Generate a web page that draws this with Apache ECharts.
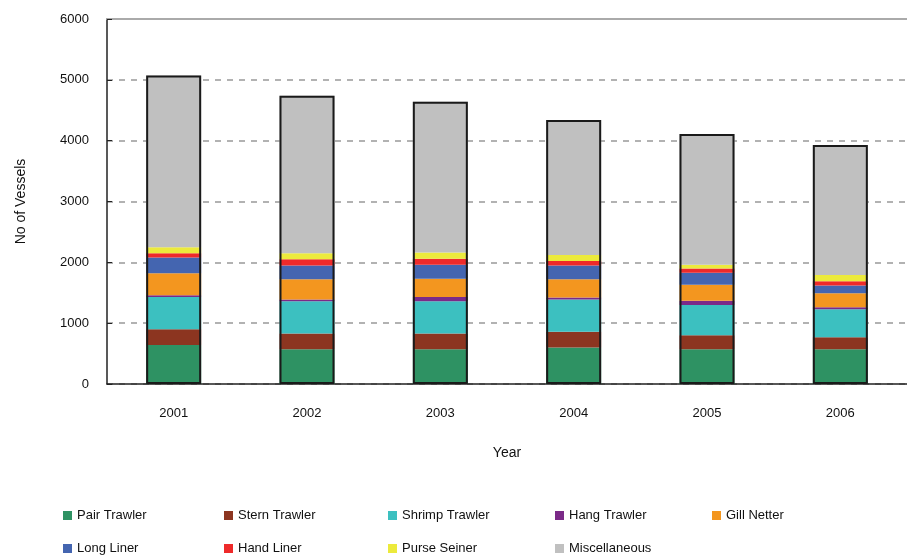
<!DOCTYPE html>
<html>
<head>
<meta charset="utf-8">
<script src="https://cdn.jsdelivr.net/npm/echarts@6/dist/echarts.min.js"></script>
<style>
  html, body { margin: 0; padding: 0; background: #fff; }
  #chart { width: 907px; height: 558px; }
</style>
</head>
<body>
<div id="chart"></div>
<script>
// 数据
const years = ['2001', '2002', '2003', '2004', '2005', '2006'];
const pairTrawler = [640, 570, 570, 600, 570, 570];
const sternTrawler = [260, 260, 260, 260, 230, 200];
const shrimpTrawler = [530, 530, 530, 530, 500, 460];
const hangTrawler = [30, 30, 70, 30, 70, 30];
const gillNetter = [360, 330, 300, 300, 260, 230];
const longLiner = [260, 230, 230, 230, 200, 130];
const handLiner = [70, 100, 100, 70, 70, 70];
const purseSeiner = [100, 100, 100, 100, 60, 100];
const miscellaneous = [2820, 2590, 2480, 2220, 2150, 2140];
const yTicks = [0, 1000, 2000, 3000, 4000, 5000, 6000];

const seriesDefs = [
  ['Pair Trawler', pairTrawler, '#2e9263'],
  ['Stern Trawler', sternTrawler, '#8c3520'],
  ['Shrimp Trawler', shrimpTrawler, '#3cc0c0'],
  ['Hang Trawler', hangTrawler, '#7b2a88'],
  ['Gill Netter', gillNetter, '#f3961f'],
  ['Long Liner', longLiner, '#4465b0'],
  ['Hand Liner', handLiner, '#ee2a2a'],
  ['Purse Seiner', purseSeiner, '#ecea3c'],
  ['Miscellaneous', miscellaneous, '#c0c0c0']
];

// 每年合计，用于画外框
const totals = years.map((y, i) => seriesDefs.reduce((s, d) => s + d[1][i], 0));

const font = 'Liberation Sans, Arial, sans-serif';
const barWidth = 55;

// 图例位置（两行五列）
const legendCols = [58, 219, 383, 550, 707];
const legendRows = [504, 537];

const legends = seriesDefs.map((d, i) => ({
  data: [d[0]],
  left: legendCols[i % 5],
  top: legendRows[Math.floor(i / 5)],
  itemWidth: 9,
  itemHeight: 9,
  itemGap: 4,
  icon: 'rect',
  textStyle: { fontFamily: font, fontSize: 13, color: '#111' }
}));

const series = seriesDefs.map(d => ({
  name: d[0],
  type: 'bar',
  stack: 'total',
  barWidth: barWidth,
  data: d[1],
  itemStyle: { color: d[2] },
  emphasis: { disabled: true }
}));

series.push({
  name: 'outline',
  type: 'bar',
  barWidth: barWidth,
  barGap: '-100%',
  data: totals,
  z: 5,
  itemStyle: { color: 'transparent', borderColor: '#1a1a1a', borderWidth: 2 },
  emphasis: { disabled: true }
});

const chart = echarts.init(document.getElementById('chart'), null, { renderer: 'canvas' });
chart.setOption({
  animation: false,
  backgroundColor: '#fff',
  legend: legends,
  grid: { left: 107, right: -5, top: 19, bottom: 174 },
  xAxis: [{
    type: 'category',
    data: years,
    name: 'Year',
    nameLocation: 'middle',
    nameGap: 62,
    nameTextStyle: { fontFamily: font, fontSize: 14, color: '#111' },
    axisLine: { lineStyle: { color: '#222', width: 1.5 } },
    axisTick: { inside: true, length: 4, lineStyle: { color: '#222' } },
    axisLabel: { fontFamily: font, fontSize: 13, color: '#111', margin: 23 }
  }, {
    type: 'category',
    data: years,
    position: 'top',
    axisLine: { lineStyle: { color: '#aaa', width: 2 } },
    axisTick: { show: false },
    axisLabel: { show: false }
  }],
  yAxis: {
    type: 'value',
    min: yTicks[0],
    max: yTicks[yTicks.length - 1],
    interval: 1000,
    name: 'No of Vessels',
    nameLocation: 'middle',
    nameGap: 79,
    nameRotate: 90,
    nameTextStyle: { fontFamily: font, fontSize: 14, color: '#111' },
    axisLine: { show: true, lineStyle: { color: '#222', width: 1.5 } },
    axisTick: { show: true, inside: true, length: 5, lineStyle: { color: '#222' } },
    axisLabel: { fontFamily: font, fontSize: 13, color: '#111', margin: 18, formatter: v => String(v) },
    splitLine: { lineStyle: { color: '#999', type: [6, 6], width: 1.5 } }
  },
  series: series
});
</script>
</body>
</html>
